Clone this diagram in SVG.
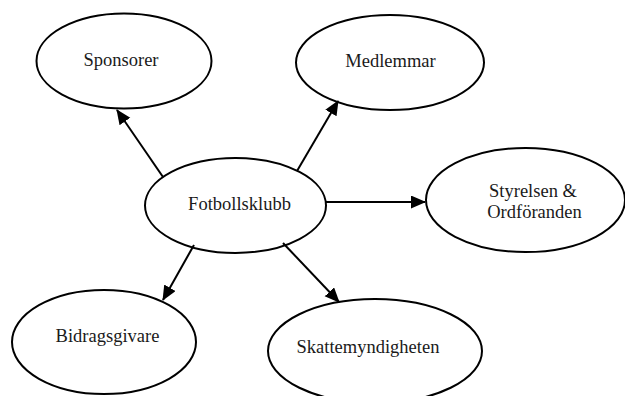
<svg xmlns="http://www.w3.org/2000/svg" width="625" height="396" viewBox="0 0 625 396">
<style>
.node ellipse{fill:#fff;stroke:#000;stroke-width:2}
.node text{font-family:"Liberation Serif","Times New Roman",serif;font-size:18.5px;fill:#1a1a1a;text-anchor:middle}
.conn line{stroke:#000;stroke-width:2}
</style>
<defs>
<marker id="ah" markerUnits="userSpaceOnUse" markerWidth="16" markerHeight="14" refX="14" refY="6.5" orient="auto">
<path d="M0,0 L15,6.5 L0,13 z" fill="#000"/>
</marker>
</defs>
<rect width="625" height="396" fill="#fff"/>
<g id="n-sponsorer" class="node"><ellipse cx="124" cy="61" rx="87.5" ry="47.5"/><text x="121" y="66">Sponsorer</text></g>
<g id="n-medlemmar" class="node"><ellipse cx="390" cy="62.5" rx="94" ry="47.5"/><text x="390.5" y="67">Medlemmar</text></g>
<g id="n-fotbollsklubb" class="node"><ellipse cx="235.5" cy="205.5" rx="90.5" ry="47.5"/><text x="239.5" y="210">Fotbollsklubb</text></g>
<g id="n-styrelsen" class="node"><ellipse cx="525.5" cy="200" rx="99.5" ry="52"/><text x="533" y="197">Styrelsen &amp;</text><text x="534.5" y="218">Ordföranden</text></g>
<g id="n-bidragsgivare" class="node"><ellipse cx="104" cy="342" rx="92" ry="52"/><text x="107.5" y="342">Bidragsgivare</text></g>
<g id="n-skattemyndigheten" class="node"><ellipse cx="375" cy="351" rx="107" ry="52"/><text x="368" y="353">Skattemyndigheten</text></g>
<g id="connectors" class="conn">
<line x1="163" y1="177" x2="117" y2="110" marker-end="url(#ah)"/>
<line x1="297" y1="171" x2="338" y2="101" marker-end="url(#ah)"/>
<line x1="326" y1="202" x2="425" y2="202" marker-end="url(#ah)"/>
<line x1="194" y1="245" x2="163" y2="300" marker-end="url(#ah)"/>
<line x1="283" y1="243" x2="339" y2="302" marker-end="url(#ah)"/>
</g>
</svg>
